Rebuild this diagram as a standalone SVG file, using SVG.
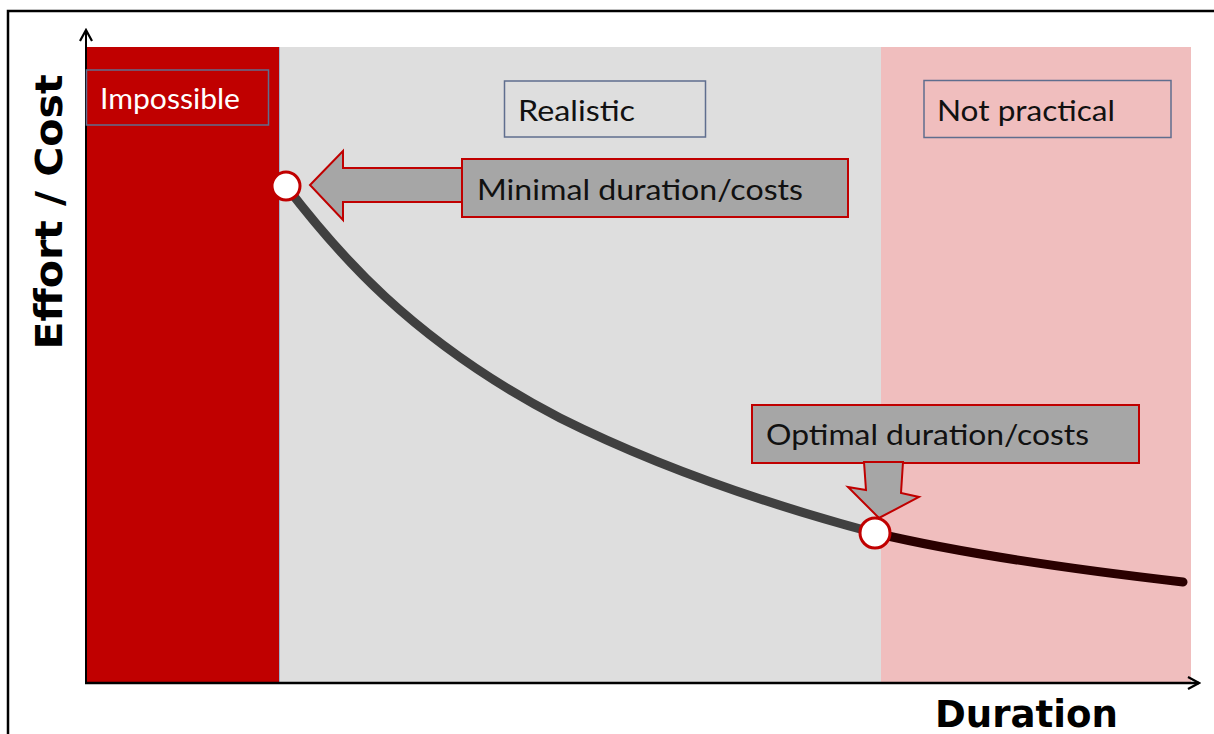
<svg xmlns="http://www.w3.org/2000/svg" width="1214" height="734" viewBox="0 0 1214 734">
<style>
.lbl{font-family:Lato,"Open Sans","Liberation Sans",sans-serif;font-size:29px;}
.box{stroke:#5F6E8E;stroke-width:1.5;}
.call{fill:#A6A6A6;stroke:#C00000;stroke-width:2;}
.axis{font-family:"DejaVu Sans",Verdana,sans-serif;font-weight:bold;font-size:37px;fill:#000;}
.dot{fill:#fff;stroke:#C00000;stroke-width:3;}
</style>
<defs>
<marker id="ah" viewBox="0 0 16 16" refX="14" refY="8" markerWidth="16" markerHeight="16" markerUnits="userSpaceOnUse" orient="auto">
<path d="M3,2 L14,8 L3,14" fill="none" stroke="#000" stroke-width="2.2"/>
</marker>
</defs>
<rect width="1214" height="734" fill="#fff"/>
<path d="M8,734 V11 H1214" fill="none" stroke="#000" stroke-width="2.5"/>
<g id="zones">
<rect x="86" y="47" width="193" height="636" fill="#C00000"/>
<rect x="279" y="47" width="602" height="636" fill="#DEDEDE"/>
<rect x="881" y="47" width="310" height="636" fill="#F0BEBE"/>
<line x1="279.5" y1="47" x2="279.5" y2="683" stroke="#9DB3CC" stroke-width="1"/>
</g>
<g id="axes">
<line x1="86" y1="684" x2="86" y2="30" stroke="#000" stroke-width="2" marker-end="url(#ah)"/>
<line x1="85" y1="683" x2="1199" y2="683" stroke="#000" stroke-width="2.5" marker-end="url(#ah)"/>
</g>
<g id="label-impossible">
<rect class="box" x="86.5" y="70" width="182" height="55" fill="none"/>
<text class="lbl" x="100" y="109" fill="#fff" textLength="140" lengthAdjust="spacingAndGlyphs">Impossible</text>
</g>
<g id="label-realistic">
<rect class="box" x="504.5" y="81" width="201" height="56" fill="none"/>
<text class="lbl" x="518" y="121" fill="#111" textLength="117" lengthAdjust="spacingAndGlyphs">Realistic</text>
</g>
<g id="label-notpractical">
<rect class="box" x="924" y="80.5" width="247" height="57" fill="none"/>
<text class="lbl" x="937" y="121" fill="#111" textLength="178" lengthAdjust="spacingAndGlyphs">Not practical</text>
</g>
<g id="connectors">
<path d="M286,186 C335,250 410,340 560,418 C660,468 770,505 875,533" fill="none" stroke="#404040" stroke-width="9"/>
<path d="M875,533 C960,553 1060,568 1183,582" fill="none" stroke="#2A0000" stroke-width="9" stroke-linecap="round"/>
</g>
<g id="callout-minimal">
<polygon class="call" points="463,168 343,168 343,151 310,185 343,220 343,202 463,202"/>
<rect class="call" x="462" y="159" width="386" height="58"/>
<text class="lbl" x="477" y="200" fill="#111" textLength="326" lengthAdjust="spacingAndGlyphs">Minimal duration/costs</text>
</g>
<g id="callout-optimal">
<rect class="call" x="752" y="405" width="387" height="58"/>
<polygon class="call" points="864,462 903,462 901,493 919,497 879,518 848,487 866,490"/>
<text class="lbl" x="766" y="445" fill="#111" textLength="323" lengthAdjust="spacingAndGlyphs">Optimal duration/costs</text>
</g>
<g id="point-min"><circle class="dot" cx="286" cy="186" r="14"/></g>
<g id="point-opt"><circle class="dot" cx="875" cy="533" r="15"/></g>
<text class="axis" x="935" y="727" textLength="183" lengthAdjust="spacingAndGlyphs">Duration</text>
<text class="axis" transform="translate(62,212) rotate(-90)" text-anchor="middle" textLength="275" lengthAdjust="spacingAndGlyphs">Effort / Cost</text>
</svg>
